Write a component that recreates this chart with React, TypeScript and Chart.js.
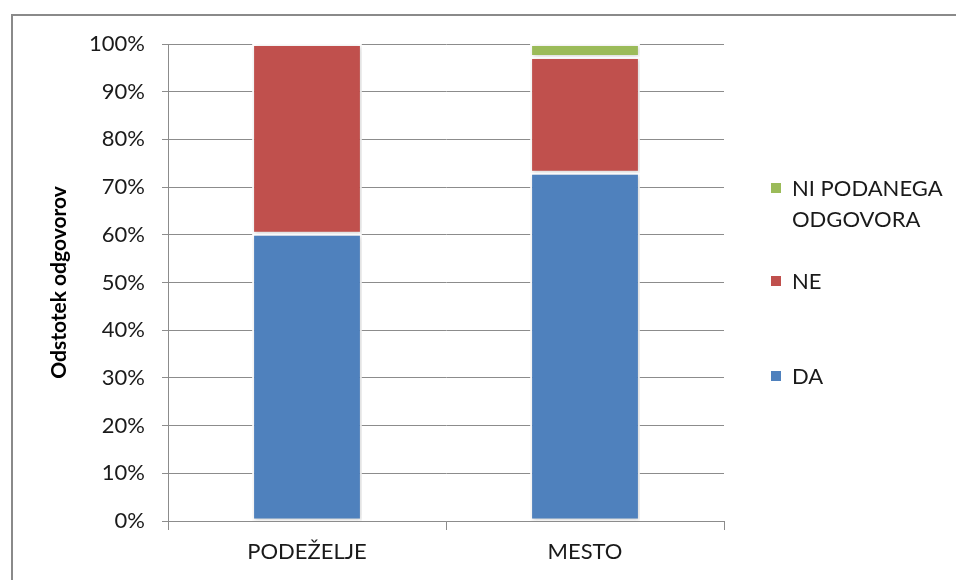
import React, { useEffect, useRef } from "react";
import { Chart, registerables } from "chart.js";

Chart.register(...registerables);

const categories = ["PODEŽELJE", "MESTO"];
const daValues = [60.2, 73.0];
const neValues = [39.8, 24.3];
const niValues = [0, 2.7];
const seriesLabels = ["DA", "NE", "NI PODANEGA ODGOVORA"];
const legendLines = [["NI PODANEGA", "ODGOVORA"], ["NE"], ["DA"]];
const yTicks = [0, 10, 20, 30, 40, 50, 60, 70, 80, 90, 100];
const yTitle = "Odstotek odgovorov";

const FONT = "Lato, 'Liberation Sans', sans-serif";
const COLORS = ["#4F81BD", "#C0504D", "#9BBB59"];

export default function App() {
  const ref = useRef<HTMLCanvasElement | null>(null);

  useEffect(() => {
    if (!ref.current) return;

    const legendPlugin = {
      id: "customLegend",
      afterDraw(chart: any) {
        const ctx = chart.ctx;
        ctx.save();
        ctx.font = `22px ${FONT}`;
        ctx.textBaseline = "middle";
        ctx.fillStyle = "#1a1a1a";
        const ys = [188, 281, 376];
        const colorOrder = [COLORS[2], COLORS[1], COLORS[0]];
        legendLines.forEach((lines, i) => {
          ctx.fillStyle = colorOrder[i];
          ctx.fillRect(771, ys[i] - 5, 10, 10);
          ctx.fillStyle = "#1a1a1a";
          lines.forEach((ln, j) => {
            ctx.fillText(ln, 792, ys[i] + 1 + j * 31);
          });
        });
        ctx.restore();
      },
    };

    const shadowPlugin = {
      id: "barShadow",
      beforeDatasetsDraw(chart: any) {
        const ctx = chart.ctx;
        ctx.save();
        ctx.shadowColor = "rgba(0,0,0,0.18)";
        ctx.shadowBlur = 4;
        ctx.shadowOffsetX = 1;
        ctx.shadowOffsetY = 1;
      },
      afterDatasetsDraw(chart: any) {
        chart.ctx.restore();
      },
    };

    const chart = new Chart(ref.current, {
      type: "bar",
      data: {
        labels: categories,
        datasets: [
          { label: seriesLabels[0], data: daValues, backgroundColor: COLORS[0] },
          { label: seriesLabels[1], data: neValues, backgroundColor: COLORS[1] },
          { label: seriesLabels[2], data: niValues, backgroundColor: COLORS[2] },
        ].map((d) => ({
          ...d,
          borderColor: "#ffffff",
          borderWidth: 2,
          borderSkipped: false,
          categoryPercentage: 1,
          barPercentage: 0.395,
        })),
      },
      options: {
        animation: false,
        responsive: false,
        maintainAspectRatio: false,
        layout: { padding: { left: 0, top: 44, right: 232, bottom: 0 } },
        plugins: {
          legend: { display: false },
          tooltip: { enabled: false },
        },
        scales: {
          x: {
            stacked: true,
            offset: true,
            grid: {
              display: true,
              offset: true,
              drawOnChartArea: false,
              drawTicks: true,
              tickLength: 9,
              color: "#8c8c8c",
            },
            border: { display: true, color: "#8c8c8c", width: 1 },
            ticks: {
              color: "#1a1a1a",
              font: { family: FONT, size: 22 },
              padding: 9,
            },
            afterFit(scale: any) {
              scale.height = 59;
            },
          },
          y: {
            stacked: true,
            min: 0,
            max: 100,
            afterBuildTicks(scale: any) {
              scale.ticks = yTicks.map((v) => ({ value: v }));
            },
            grid: {
              color: "#8c8c8c",
              lineWidth: 1,
              tickLength: 6,
            },
            border: { display: true, color: "#8c8c8c", width: 1 },
            ticks: {
              color: "#1a1a1a",
              font: { family: FONT, size: 22 },
              padding: 17,
              callback: (v: any) => `${v}%`,
            },
            title: {
              display: true,
              text: yTitle,
              color: "#000",
              font: { family: FONT, size: 21, weight: "bold" },
              padding: { top: 47, bottom: 0 },
            },
            afterFit(scale: any) {
              scale.width = 168;
            },
          },
        },
      },
      plugins: [shadowPlugin, legendPlugin],
    });

    return () => chart.destroy();
  }, []);

  return (
    <div style={{ position: "absolute", left: 0, top: 0, width: 956, height: 580, background: "#fff", overflow: "hidden" }}>
      <div
        style={{
          position: "absolute",
          left: 11,
          top: 14,
          width: 960,
          height: 580,
          borderLeft: "2px solid #8a8a8a",
          borderTop: "2px solid #8a8a8a",
        }}
      />
      <canvas
        ref={ref}
        width={956}
        height={580}
        style={{ position: "absolute", left: 0, top: 0, width: 956, height: 580 }}
      />
    </div>
  );
}
